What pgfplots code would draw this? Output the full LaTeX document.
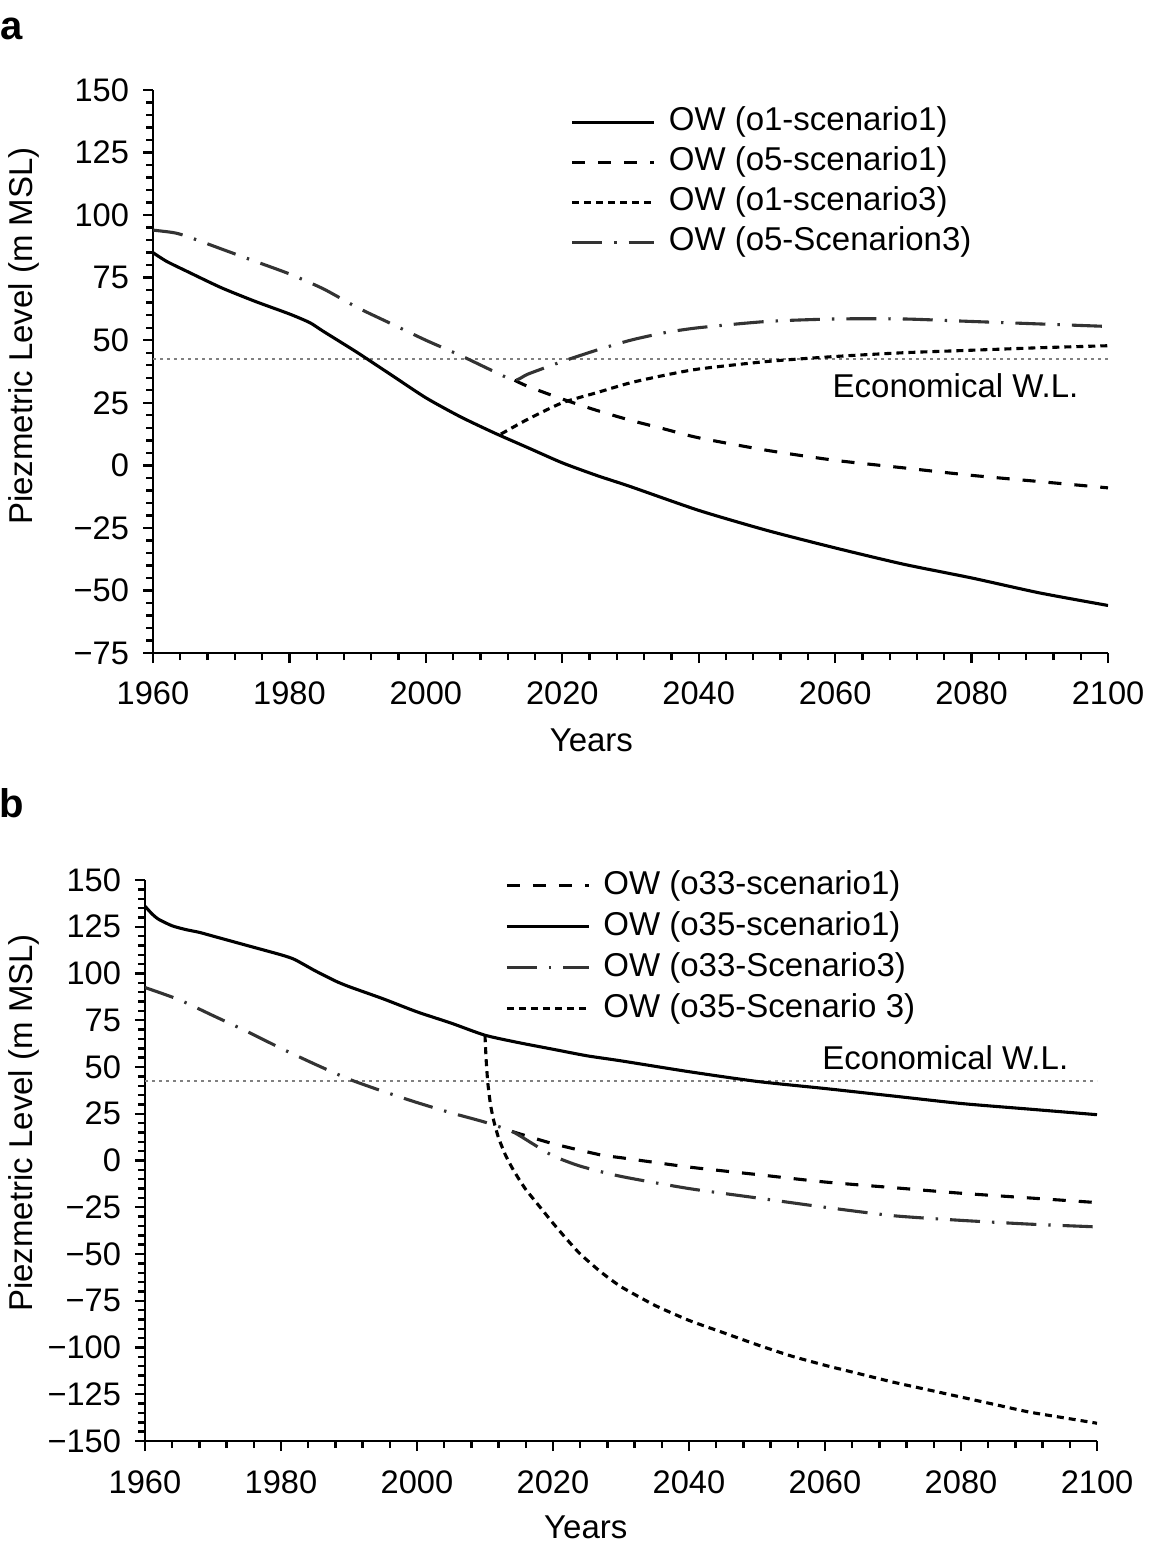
\documentclass[border=0pt]{standalone}
\usepackage{fontspec}
\setmainfont{Liberation Sans}
\usepackage{pgfplots}
\pgfplotsset{compat=1.18}

\pgfplotsset{
  myaxis/.style={
    scale only axis,
    xmin=1960, xmax=2100,
    xtick={1960,1980,...,2100},
    minor x tick num=4,
    minor y tick num=4,
    axis x line*=bottom, axis y line*=left,
    axis line style={line width=1.3pt, -},
    tick style={line width=1.2pt, black},
    tick align=outside,
    major tick length=5pt,
    minor tick length=3.5pt,
    ticklabel style={font=\fontsize{16.3}{19}\selectfont},
    /pgf/number format/assume math mode=true,
    /pgf/number format/1000 sep={},
    yticklabel style={xshift=-3.5pt},
    label style={font=\fontsize{16.5}{20}\selectfont},
    legend style={draw=none, fill=none, font=\fontsize{16.5}{20}\selectfont,
      anchor=north west, inner sep=0pt,
      nodes={inner sep=0pt, text height=12pt, text depth=3.5pt}},
    legend cell align=left,
    legend image code/.code={\draw[##1] (0pt,0pt) -- (41pt,0pt);},
  },
  solidL/.style={black, line width=1.55pt},
  dashL/.style={black, line width=1.55pt, dash pattern=on 6.5pt off 6.5pt},
  sdashL/.style={black, line width=1.55pt, dash pattern=on 3.5pt off 2.5pt},
  ddotL/.style={black!80, line width=1.55pt, dash pattern=on 15pt off 6pt on 1.2pt off 6pt},
  econL/.style={gray, line width=1.3pt, dash pattern=on 1.3pt off 2.2pt},
}

\begin{document}
\begin{tikzpicture}
\useasboundingbox (0,0) rectangle (575pt,-773pt);

\node[font=\bfseries\fontsize{20}{24}\selectfont, anchor=center] at (6pt,-14.5pt) {a};
\node[font=\bfseries\fontsize{20}{24}\selectfont, anchor=center] at (6pt,-401.5pt) {b};

% ---------------- Panel a ----------------
\begin{axis}[myaxis,
  at={(76.5pt,-326.5pt)}, anchor=south west,
  width=477.5pt, height=281.5pt,
  ymin=-75, ymax=150,
  ytick={-75,-50,...,150},
  yticklabels={−75,−50,−25,0,25,50,75,100,125,150},
  xticklabel style={yshift=-6pt},
  xlabel={Years}, ylabel={Piezmetric Level (m MSL)},
  xlabel style={at={(axis description cs:0.459,0)}, anchor=center, yshift=-43.5pt},
  ylabel style={at={(axis description cs:-0.135,0.563)}, anchor=center, rotate=0},
  legend style={at={(axis description cs:0.437,0.971)}, row sep=4.5pt},
]
\addplot[econL, forget plot] coordinates {(1960,42.5) (2100,42.5)};
\node[anchor=east, font=\fontsize{16.5}{20}\selectfont] at (axis cs:2096.7,32) {Economical W.L.};

\addplot[solidL, smooth, tension=0.4] coordinates {
(1960,85) (1962,81.5) (1965,77.5) (1970,71) (1975,65.5) (1980,60.5) (1983,57)
(1985,53.5) (1990,45) (1995,36) (2000,27) (2005,19.5) (2010,13) (2015,7) (2020,1)
(2025,-4) (2030,-8.5) (2040,-18) (2050,-26) (2060,-33) (2070,-39.5) (2080,-45)
(2090,-51) (2100,-56)};
\addlegendentry{\hspace{6.5pt}OW (o1-scenario1)}

\addplot[dashL, smooth, tension=0.4] coordinates {
(2013,34) (2015,31.5) (2020,26.5) (2025,22) (2030,18) (2035,14.5) (2040,11)
(2050,6) (2060,2) (2070,-1) (2080,-4) (2090,-6.5) (2100,-9)};
\addlegendentry{\hspace{6.5pt}OW (o5-scenario1)}

\addplot[sdashL, smooth, tension=0.4] coordinates {
(2011,12.5) (2015,18.5) (2020,25) (2025,29) (2030,33) (2035,36) (2040,38.5)
(2050,41.5) (2060,43.5) (2070,45) (2080,46) (2090,47) (2100,47.8)};
\addlegendentry{\hspace{6.5pt}OW (o1-scenario3)}

\addplot[ddotL, smooth, tension=0.4] coordinates {
(1960,94) (1963,93) (1965,91.5) (1970,86.5) (1975,81.5) (1980,76.5) (1985,70.5)
(1990,63) (1995,56.5) (2000,50) (2005,44) (2010,37.5) (2013,34)
(2015,36.5) (2020,41.5) (2025,46) (2030,50) (2035,53) (2040,55) (2050,57.5)
(2060,58.5) (2070,58.5) (2080,57.5) (2090,56.5) (2100,55.5)};
\addlegendentry{\hspace{6.5pt}OW (o5-Scenarion3)}
\end{axis}

% ---------------- Panel b ----------------
\begin{axis}[myaxis,
  at={(72.5pt,-720.5pt)}, anchor=south west,
  width=476pt, height=280.5pt,
  ymin=-150, ymax=150,
  ytick={-150,-125,...,150},
  yticklabels={−150,−125,−100,−75,−50,−25,0,25,50,75,100,125,150},
  xticklabel style={yshift=-6.5pt},
  xlabel={Years}, ylabel={Piezmetric Level (m MSL)},
  xlabel style={at={(axis description cs:0.463,0)}, anchor=center, yshift=-43pt},
  ylabel style={at={(axis description cs:-0.127,0.567)}, anchor=center, rotate=0},
  legend style={at={(axis description cs:0.378,1.018)}, row sep=5pt},
]
\addplot[econL, forget plot] coordinates {(1960,42.5) (2100,42.5)};
\node[anchor=east, font=\fontsize{16.5}{20}\selectfont] at (axis cs:2096.8,55) {Economical W.L.};

\addplot[dashL, smooth, tension=0.4] coordinates {
(2014,15.5) (2020,9) (2027,3) (2030,1.5) (2040,-3.5) (2050,-7.5) (2060,-11.5)
(2070,-14.5) (2080,-17.5) (2090,-20) (2100,-22.5)};
\addlegendentry{\hspace{6.5pt}OW (o33-scenario1)}

\addplot[solidL, smooth, tension=0.4] coordinates {
(1960,136) (1961,132) (1962,129) (1964,125.5) (1966,123.5) (1968,122) (1970,120)
(1975,115) (1980,110) (1982,107.5) (1985,101.5) (1988,96) (1990,93) (1995,86.5)
(2000,79.5) (2005,73.5) (2010,67) (2015,63) (2020,59.5) (2025,56) (2030,53.3) (2040,47.5)
(2050,42.3) (2060,38.5) (2070,34.5) (2080,30.5) (2090,27.5) (2100,24.5)};
\addlegendentry{\hspace{6.5pt}OW (o35-scenario1)}

\addplot[ddotL, smooth, tension=0.4] coordinates {
(1960,92.5) (1965,86) (1970,77.5) (1975,69) (1980,60) (1985,51.5) (1990,43.5)
(1995,37) (2000,31) (2005,25.5) (2010,20.5) (2014,15.5) (2017,9) (2020,2.5)
(2024,-3) (2030,-8.5) (2040,-15) (2050,-20) (2060,-25) (2070,-29.5) (2080,-32)
(2090,-34) (2100,-35.5)};
\addlegendentry{\hspace{6.5pt}OW (o33-Scenario3)}

\addplot[sdashL, smooth, tension=0.3] coordinates {
(2010,67) (2010.15,55) (2010.4,42) (2010.8,30) (2011.3,21) (2012,12) (2013,3)
(2014,-4) (2015,-10) (2016,-15.5) (2018,-24.5) (2020,-33.5) (2022,-42) (2024,-50)
(2027,-59.5) (2030,-67.5) (2035,-77.5) (2040,-85.5) (2045,-92) (2050,-98.5)
(2055,-104.5) (2060,-109.5) (2065,-114) (2070,-118.5) (2075,-122.5) (2080,-126.5)
(2085,-130.5) (2090,-134.5) (2095,-137.5) (2100,-140.5)};
\addlegendentry{\hspace{6.5pt}OW (o35-Scenario 3)}
\end{axis}
\end{tikzpicture}
\end{document}
